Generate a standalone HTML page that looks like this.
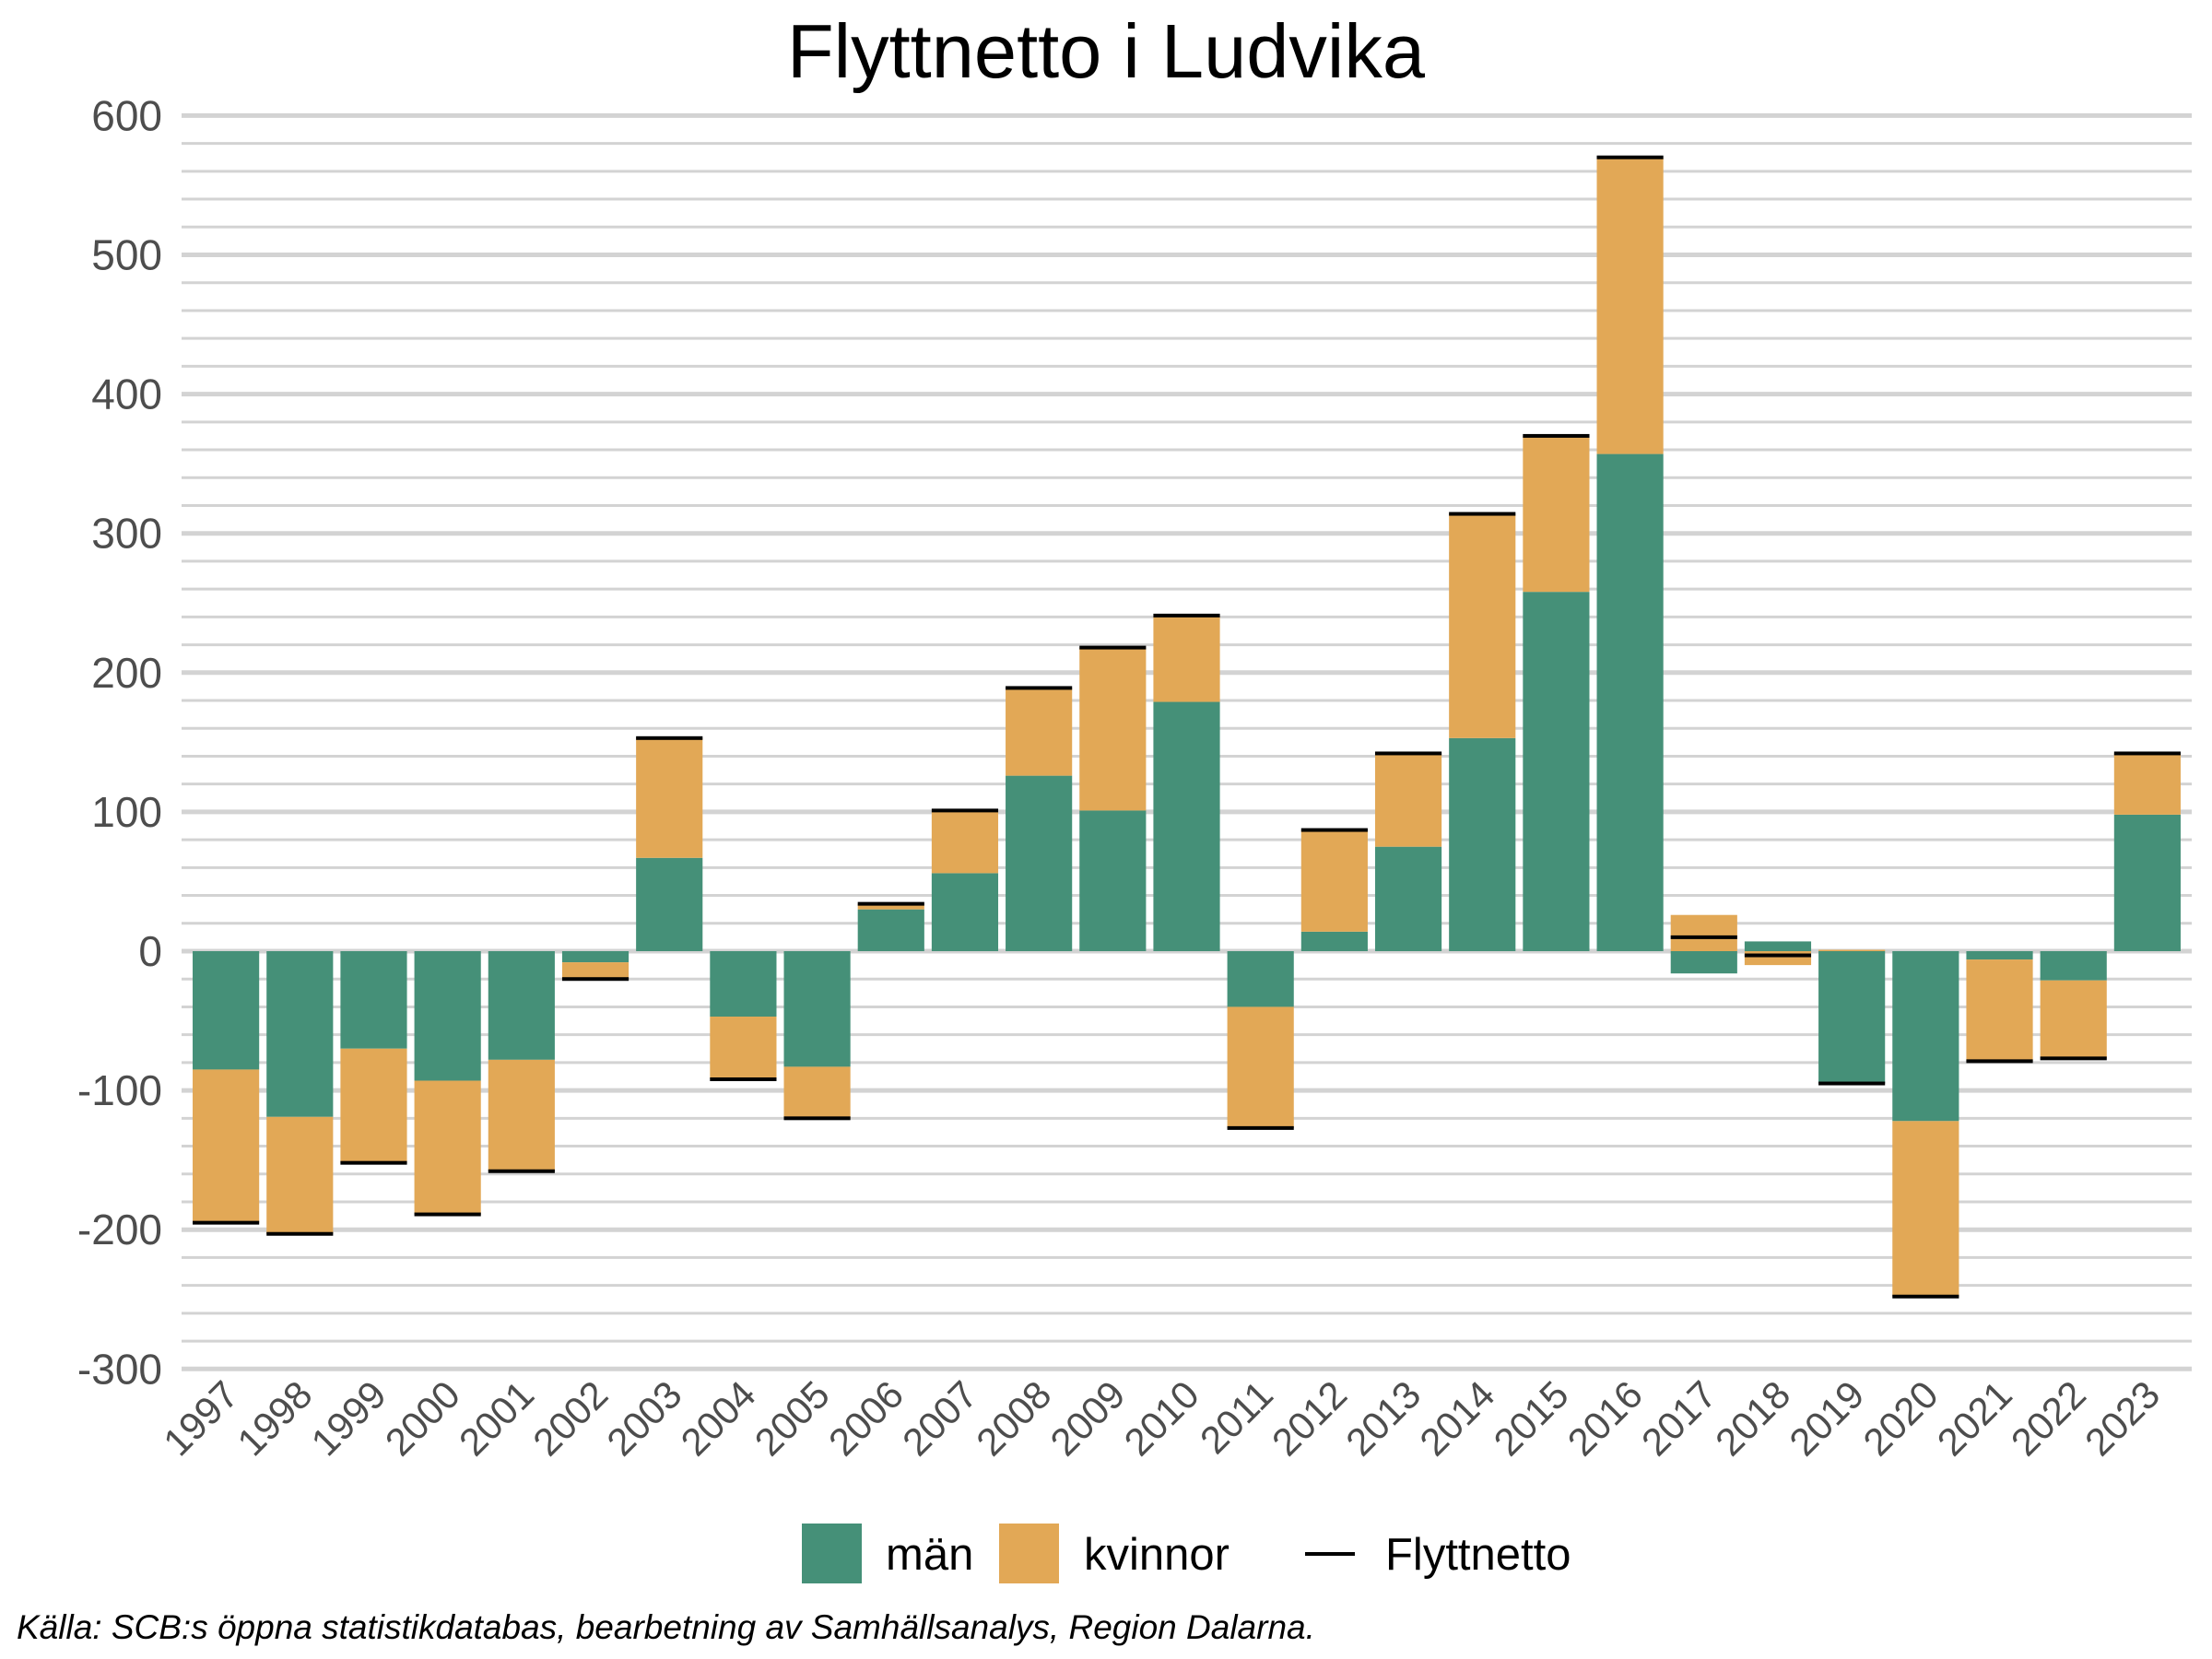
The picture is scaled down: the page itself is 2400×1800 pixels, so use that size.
<!DOCTYPE html>
<html><head><meta charset="utf-8"><style>
html,body{margin:0;padding:0;background:#fff;}
svg{display:block;font-family:"Liberation Sans",sans-serif;}
</style></head><body>
<svg id="chart" width="2400" height="1800" viewBox="0 0 2400 1800" xmlns="http://www.w3.org/2000/svg">
<text x="1200" y="84" font-size="83" text-anchor="middle" fill="#000">Flyttnetto i Ludvika</text>
<g id="grid"></g>
<g id="yaxis"></g>
<g id="bars"></g>
<g id="xaxis"></g>
<g>
<rect x="870" y="1653" width="65" height="65" fill="#459078"/>
<text x="961" y="1703" font-size="49" fill="#000">män</text>
<rect x="1084" y="1653" width="65" height="65" fill="#e2a856"/>
<text x="1176" y="1703" font-size="49" fill="#000">kvinnor</text>
<rect x="1416" y="1684" width="54" height="4" fill="#000"/>
<text x="1503" y="1703" font-size="49" fill="#000">Flyttnetto</text>
</g>
<text x="18" y="1778" font-size="37" font-style="italic" fill="#000">Källa: SCB:s öppna statistikdatabas, bearbetning av Samhällsanalys, Region Dalarna.</text>
</svg>
<script>
const years = ["1997","1998","1999","2000","2001","2002","2003","2004","2005","2006","2007","2008","2009","2010","2011","2012","2013","2014","2015","2016","2017","2018","2019","2020","2021","2022","2023"];
const man = [-85,-119,-70,-93,-78,-8,67,-47,-83,30,56,126,101,179,-40,14,75,153,258,357,-16,7,-95,-122,-6,-21,98];
const kvinnor = [-110,-84,-82,-96,-80,-12,86,-45,-37,4,45,63,117,62,-87,73,67,161,112,213,26,-10,1,-126,-73,-56,44];
const netto = [-195,-203,-152,-189,-158,-20,153,-92,-120,34,101,189,218,241,-127,87,142,314,370,570,10,-3,-95,-248,-79,-77,142];
const yTicks = [600,500,400,300,200,100,0,-100,-200,-300];

const NS="http://www.w3.org/2000/svg";
const x0=197, x1=2378, pxPer=1.511, zeroY=1032;
const band=(x1-x0)/(years.length-1+1.2);
function xc(i){return x0+band*0.6+i*band;}
function y(v){return zeroY - v*pxPer;}
function mk(tag,attrs,parent){const e=document.createElementNS(NS,tag);for(const k in attrs)e.setAttribute(k,attrs[k]);parent.appendChild(e);return e;}
const grid=document.getElementById('grid'), ya=document.getElementById('yaxis'), bars=document.getElementById('bars'), xa=document.getElementById('xaxis');
for(let v=-300; v<=600; v+=20){
  const major=v%100===0;
  const l=mk('line',{x1:x0,x2:x1,y1:y(v),y2:y(v),stroke:'#d3d3d3','stroke-width':major?5:3},grid);
  
  
}
yTicks.forEach(v=>{
  const t=mk('text',{x:176,y:y(v)+16,'font-size':46,'text-anchor':'end',fill:'#4d4d4d'},ya);
  t.textContent=v;
  
  
});
const bw=band*0.9;
years.forEach((yr,i)=>{
  const cx=xc(i);
  let pos=0,neg=0;
  [[man[i],'#459078','bar-man-'+yr],[kvinnor[i],'#e2a856','bar-kvinnor-'+yr]].forEach(([v,c,n])=>{
    let a,b;
    if(v>=0){a=pos;b=pos+v;pos=b;}else{a=neg;b=neg+v;neg=b;}
    const r=mk('rect',{x:cx-bw/2,width:bw,y:Math.min(y(a),y(b)),height:Math.abs(y(a)-y(b)),fill:c},bars);
    
    
  });
  const s=mk('rect',{x:cx-bw/2,width:bw,y:y(netto[i])-2,height:4,fill:'#000'},bars);
  
  
  const t=mk('text',{'font-size':42,'text-anchor':'end',fill:'#4d4d4d',transform:`translate(${cx+16},${1516}) rotate(-45)`},xa);
  t.textContent=yr;
  
  
});
</script>
</body></html>
